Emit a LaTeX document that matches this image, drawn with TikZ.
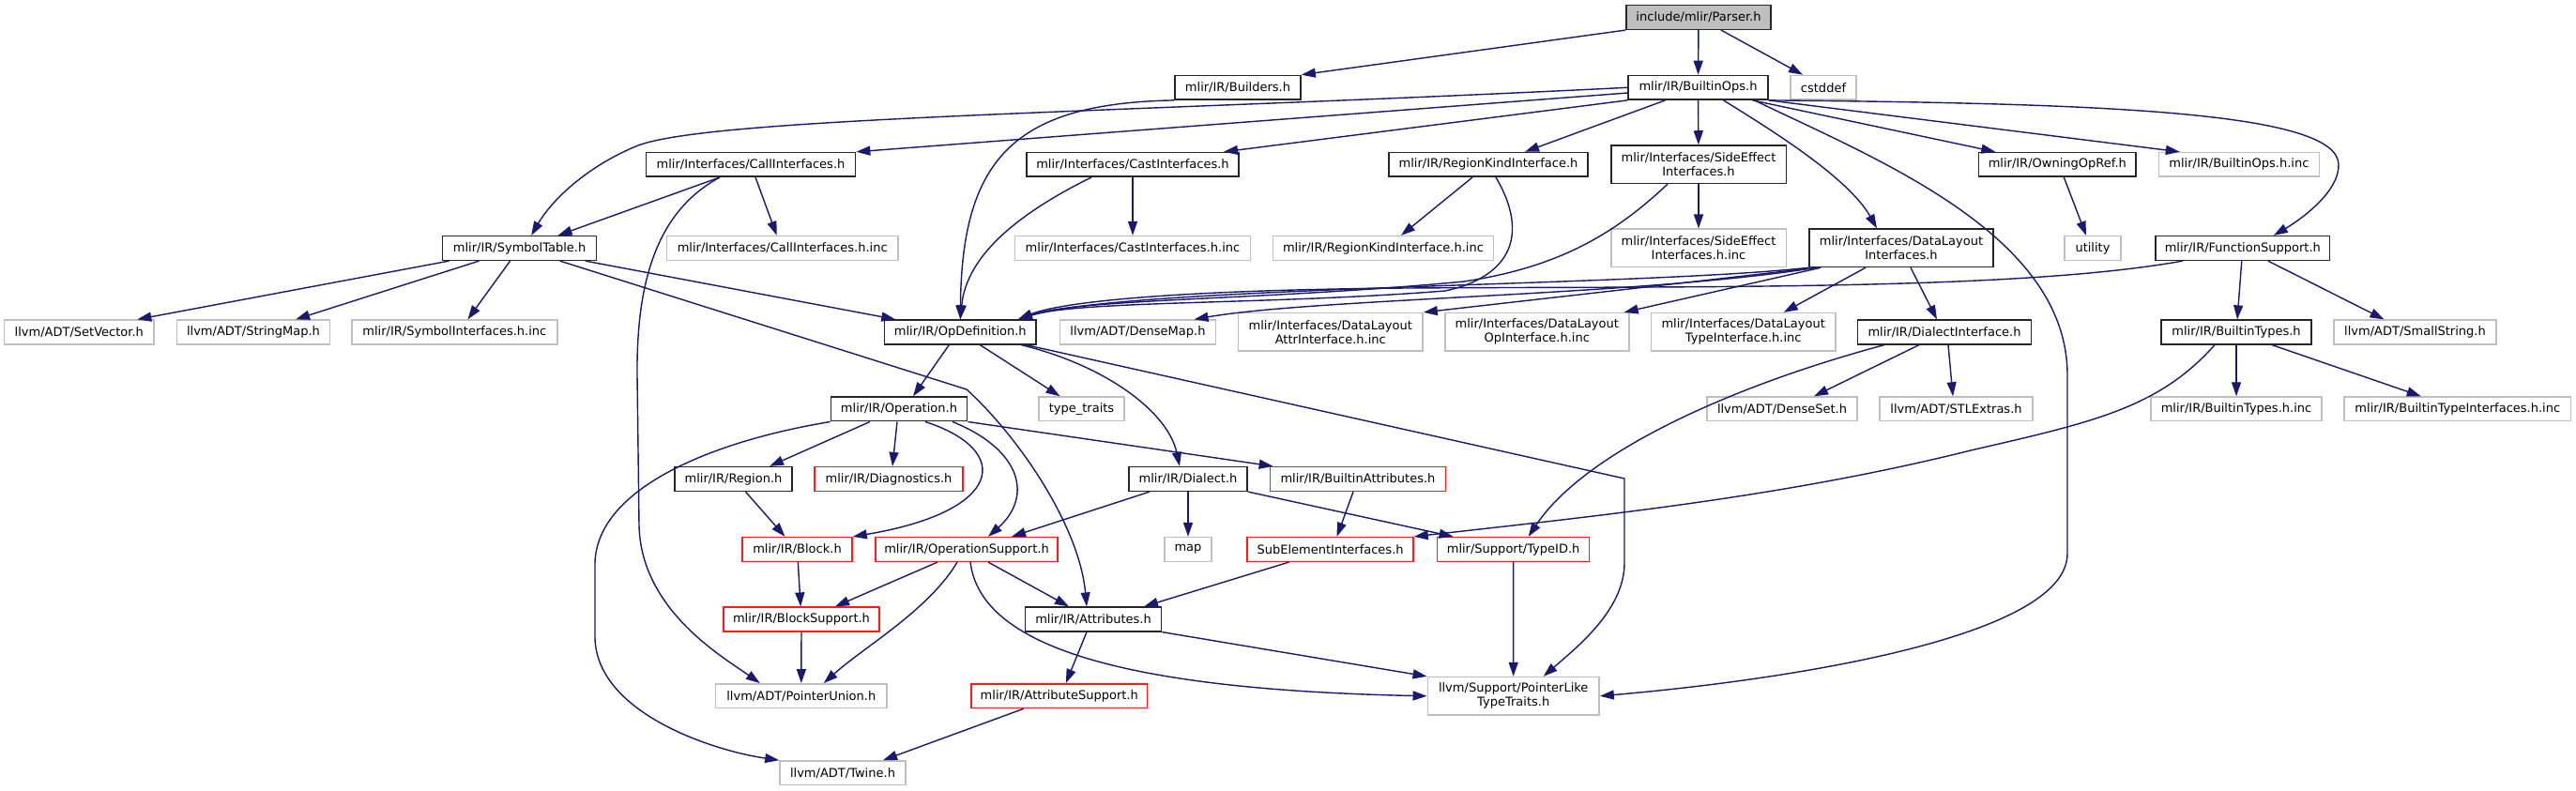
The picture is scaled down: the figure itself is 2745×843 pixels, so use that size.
\documentclass[tikz,border=0pt]{standalone}
\usepackage{fontspec}
\setmainfont{DejaVu Sans}
\usepackage{tikz}
\usetikzlibrary{arrows.meta}
\definecolor{midnight}{HTML}{191970}
\definecolor{grey75}{HTML}{BFBFBF}

\begin{document}
\begin{tikzpicture}[
  x=0.01cm, y=-0.01cm,
  every node/.style={draw, align=center, inner sep=0pt, font=\fontsize{3.7}{4.3}\selectfont, minimum height=0.256cm, line width=0.45pt},
  hdr/.style={draw=black!85},
  sys/.style={draw=grey75},
  redbox/.style={draw=red!90},
  root/.style={draw=black!85, fill=grey75},
  twoline/.style={minimum height=0.403cm},
  arrow/.style={-{Triangle[length=0.15cm,width=0.1cm]}, draw=midnight, line width=0.4pt}
]
\path[use as bounding box, fill=white] (0,0) rectangle (2745,843);

\node (parser) [root, minimum width=1.54cm] at (1810,18.5) {include/mlir/Parser.h};

\node (builders) [hdr, minimum width=1.34cm] at (1319,93.3) {mlir/IR/Builders.h};
\node (builtinops) [hdr, minimum width=1.49cm] at (1809.5,93.3) {mlir/IR/BuiltinOps.h};
\node (cstddef) [sys, minimum width=0.70cm] at (1943,93.3) {cstddef};

\node (callif) [hdr, minimum width=2.23cm] at (800,175.4) {mlir/Interfaces/CallInterfaces.h};
\node (castif) [hdr, minimum width=2.26cm] at (1207,175.4) {mlir/Interfaces/CastInterfaces.h};
\node (regionkind) [hdr, minimum width=2.12cm] at (1586,175.4) {mlir/IR/RegionKindInterface.h};
\node (sideeffect) [hdr, twoline, minimum width=1.865cm] at (1810,175.2) {mlir/Interfaces/SideEffect\\Interfaces.h};
\node (owningopref) [hdr, minimum width=1.674cm] at (2192.3,175.4) {mlir/IR/OwningOpRef.h};
\node (builtinopsinc) [sys, minimum width=1.71cm] at (2385.9,175.4) {mlir/IR/BuiltinOps.h.inc};

\node (symboltable) [hdr, minimum width=1.64cm] at (553.6,264.5) {mlir/IR/SymbolTable.h};
\node (callifinc) [sys, minimum width=2.465cm] at (833.7,264.5) {mlir/Interfaces/CallInterfaces.h.inc};
\node (castifinc) [sys, minimum width=2.51cm] at (1207,264.5) {mlir/Interfaces/CastInterfaces.h.inc};
\node (regionkindinc) [sys, minimum width=2.346cm] at (1474,264.5) {mlir/IR/RegionKindInterface.h.inc};
\node (sideeffectinc) [sys, twoline, minimum width=1.865cm] at (1810,264.4) {mlir/Interfaces/SideEffect\\Interfaces.h.inc};
\node (datalayout) [hdr, twoline, minimum width=1.96cm] at (2026,264.3) {mlir/Interfaces/DataLayout\\Interfaces.h};
\node (utility) [sys, minimum width=0.60cm] at (2230,264.5) {utility};
\node (functionsupport) [hdr, minimum width=1.855cm] at (2389.8,264.5) {mlir/IR/FunctionSupport.h};

\node (setvector) [sys, minimum width=1.594cm] at (84.3,354) {llvm/ADT/SetVector.h};
\node (stringmap) [sys, minimum width=1.625cm] at (270,354) {llvm/ADT/StringMap.h};
\node (symbolifinc) [sys, minimum width=2.192cm] at (484.4,354) {mlir/IR/SymbolInterfaces.h.inc};
\node (opdefinition) [hdr, minimum width=1.614cm] at (1023.3,354) {mlir/IR/OpDefinition.h};
\node (densemap) [sys, minimum width=1.66cm] at (1212.5,354) {llvm/ADT/DenseMap.h};
\node (dlattr) [sys, twoline, minimum width=1.964cm] at (1417.8,353.8) {mlir/Interfaces/DataLayout\\AttrInterface.h.inc};
\node (dlop) [sys, twoline, minimum width=1.96cm] at (1637.8,353.8) {mlir/Interfaces/DataLayout\\OpInterface.h.inc};
\node (dltype) [sys, twoline, minimum width=1.96cm] at (1857.7,353.8) {mlir/Interfaces/DataLayout\\TypeInterface.h.inc};
\node (dialectif) [hdr, minimum width=1.85cm] at (2072,354) {mlir/IR/DialectInterface.h};
\node (builtintypes) [hdr, minimum width=1.595cm] at (2383,354) {mlir/IR/BuiltinTypes.h};
\node (smallstring) [sys, minimum width=1.73cm] at (2573.5,354) {llvm/ADT/SmallString.h};

\node (operation) [hdr, minimum width=1.45cm] at (958,435.9) {mlir/IR/Operation.h};
\node (typetraits) [sys, minimum width=0.91cm] at (1152.5,435.9) {type\_traits};
\node (denseset) [sys, minimum width=1.595cm] at (1899,435.9) {llvm/ADT/DenseSet.h};
\node (stlextras) [sys, minimum width=1.63cm] at (2084.5,435.9) {llvm/ADT/STLExtras.h};
\node (builtintypesinc) [sys, minimum width=1.824cm] at (2383,435.9) {mlir/IR/BuiltinTypes.h.inc};
\node (builtintypeifinc) [sys, minimum width=2.416cm] at (2618.8,435.9) {mlir/IR/BuiltinTypeInterfaces.h.inc};

\node (region) [hdr, minimum width=1.25cm] at (781.5,510.5) {mlir/IR/Region.h};
\node (diagnostics) [redbox, minimum width=1.575cm] at (947,510.5) {mlir/IR/Diagnostics.h};
\node (dialect) [hdr, minimum width=1.26cm] at (1266,510.5) {mlir/IR/Dialect.h};
\node (builtinattrs) [redbox, minimum width=1.87cm] at (1447,510.5) {mlir/IR/BuiltinAttributes.h};

\node (block) [redbox, minimum width=1.17cm] at (849.5,585.5) {mlir/IR/Block.h};
\node (opsupport) [redbox, minimum width=1.94cm] at (1030,585.5) {mlir/IR/OperationSupport.h};
\node (map) [sys, minimum width=0.50cm] at (1266,585.5) {map};
\node (subelement) [redbox, minimum width=1.767cm] at (1417.6,585.5) {SubElementInterfaces.h};
\node (typeid) [redbox, minimum width=1.62cm] at (1612.6,585.5) {mlir/Support/TypeID.h};

\node (blocksupport) [redbox, minimum width=1.66cm] at (854,660) {mlir/IR/BlockSupport.h};
\node (attributes) [hdr, minimum width=1.45cm] at (1165,660) {mlir/IR/Attributes.h};

\node (pointerunion) [sys, minimum width=1.824cm] at (853.8,741.7) {llvm/ADT/PointerUnion.h};
\node (attrsupport) [redbox, minimum width=1.876cm] at (1128.8,741.7) {mlir/IR/AttributeSupport.h};
\node (pointerlike) [sys, twoline, minimum width=1.826cm] at (1612.7,741.8) {llvm/Support/PointerLike\\TypeTraits.h};

\node (twine) [sys, minimum width=1.34cm] at (898,823.8) {llvm/ADT/Twine.h};

\draw[arrow] (parser.south west) -- (builders.north east);
\draw[arrow] (parser) -- (builtinops);
\draw[arrow] ([xshift=0.24cm]parser.south) -- ([xshift=-0.22cm]cstddef.north);
\draw[arrow] (builders.south west) .. controls (1080,110) and (1025,170) .. (opdefinition.north);

\draw[arrow] (builtinops.west) .. controls (1200,120) and (760,125) .. (680,155) .. controls (630,175) and (590,210) .. ([xshift=0.125cm]symboltable.north);
\draw[arrow] (builtinops) -- (callif.north east);
\draw[arrow] (builtinops.south west) -- ([xshift=0.97cm]castif.north);
\draw[arrow] ([xshift=-0.35cm]builtinops.south) -- ([xshift=0.39cm]regionkind.north);
\draw[arrow] (builtinops) -- (sideeffect);
\draw[arrow] ([xshift=0.27cm]builtinops.south) .. controls (1890,140) and (1970,190) .. ([xshift=-0.26cm]datalayout.north);
\draw[arrow] ([xshift=0.6cm]builtinops.south) .. controls (2000,170) and (2203,250) .. (2203,400) -- (2203,590) .. controls (2203,680) and (1900,725) .. (pointerlike.east);
\draw[arrow] ([xshift=0.58cm]builtinops.south) -- ([xshift=-0.66cm]owningopref.north);
\draw[arrow] (builtinops.south east) -- ([xshift=-0.63cm]builtinopsinc.north);
\draw[arrow] (builtinops.south east) .. controls (2250,110) and (2490,120) .. (2492,175) .. controls (2493,205) and (2450,235) .. ([xshift=0.33cm]functionsupport.north);

\draw[arrow] ([xshift=-0.33cm]callif.south) -- ([xshift=0.41cm]symboltable.north);
\draw[arrow] ([xshift=0.05cm]callif.south) -- ([xshift=-0.06cm]callifinc.north);
\draw[arrow] ([xshift=-0.33cm]callif.south) .. controls (700,225) and (678,300) .. (679,400) -- (681,560) .. controls (683,650) and (770,700) .. ([xshift=-0.44cm]pointerunion.north);

\draw[arrow] (castif) -- (castifinc);
\draw[arrow] ([xshift=-0.44cm]castif.south) .. controls (1090,225) and (1030,270) .. (opdefinition.north);
\draw[arrow] ([xshift=-0.17cm]regionkind.south) -- ([xshift=0.19cm]regionkindinc.north);
\draw[arrow] ([xshift=0.08cm]regionkind.south) .. controls (1630,250) and (1610,295) .. (1540,310) .. controls (1350,325) and (1150,320) .. ([xshift=-0.2cm]opdefinition.north east);
\draw[arrow] (sideeffect) -- (sideeffectinc);
\draw[arrow] ([xshift=-0.33cm]sideeffect.south) .. controls (1720,250) and (1660,285) .. (1560,300) .. controls (1350,320) and (1150,318) .. ([xshift=-0.2cm]opdefinition.north east);

\draw[arrow] ([xshift=-0.75cm]symboltable.south) -- ([xshift=0.62cm]setvector.north);
\draw[arrow] ([xshift=-0.43cm]symboltable.south) -- ([xshift=0.45cm]stringmap.north);
\draw[arrow] ([xshift=-0.1cm]symboltable.south) -- ([xshift=0.14cm]symbolifinc.north);
\draw[arrow] ([xshift=0.7cm]symboltable.south) -- ([xshift=-0.69cm]opdefinition.north);
\draw[arrow] ([xshift=0.43cm]symboltable.south) -- (1030,415) .. controls (1085,465) and (1150,560) .. ([xshift=-0.07cm]attributes.north);

\draw[arrow] (datalayout.south west) .. controls (1750,305) and (1200,305) .. ([xshift=-0.2cm]opdefinition.north east);
\draw[arrow] ([xshift=0.08cm]datalayout.south west) .. controls (1750,315) and (1400,318) .. ([xshift=0.6cm]densemap.north);
\draw[arrow] ([xshift=0.09cm]datalayout.south west) -- (dlattr.north east);
\draw[arrow] ([xshift=0.13cm]datalayout.south west) -- ([xshift=-0.06cm]dlop.north east);
\draw[arrow] ([xshift=-0.38cm]datalayout.south) -- ([xshift=0.43cm]dltype.north);
\draw[arrow] ([xshift=0.1cm]datalayout.south) -- ([xshift=-0.08cm]dialectif.north);

\draw[arrow] ([xshift=-0.64cm]functionsupport.south) .. controls (2150,310) and (1800,305) .. (1500,307) .. controls (1250,309) and (1130,322) .. ([xshift=-0.2cm]opdefinition.north east);
\draw[arrow] (functionsupport) -- (builtintypes);
\draw[arrow] ([xshift=0.27cm]functionsupport.south) -- ([xshift=-0.33cm]smallstring.north);
\draw[arrow] ([xshift=0.07cm]owningopref.south) -- ([xshift=-0.07cm]utility.north);

\draw[arrow] ([xshift=-0.12cm]opdefinition.south) -- ([xshift=0.15cm]operation.north);
\draw[arrow] ([xshift=0.21cm]opdefinition.south) -- ([xshift=-0.23cm]typetraits.north);
\draw[arrow] ([xshift=0.65cm]opdefinition.south) .. controls (1180,390) and (1245,440) .. ([xshift=-0.09cm]dialect.north);
\draw[arrow] ([xshift=0.7cm]opdefinition.south) -- (1731,510) -- (1731,600) .. controls (1731,650) and (1680,690) .. ([xshift=0.32cm]pointerlike.north);

\draw[arrow] ([xshift=-0.31cm]operation.south) -- ([xshift=0.385cm]region.north);
\draw[arrow] ([xshift=-0.02cm]operation.south) -- ([xshift=0.04cm]diagnostics.north);
\draw[arrow] ([xshift=0.28cm]operation.south) .. controls (1080,480) and (1070,545) .. (block.north east);
\draw[arrow] ([xshift=0.57cm]operation.south) .. controls (1090,480) and (1100,530) .. ([xshift=0.23cm]opsupport.north);
\draw[arrow] (operation.south east) -- ([xshift=0.04cm]builtinattrs.north west);
\draw[arrow] (operation.south west) .. controls (760,470) and (636,520) .. (634,600) -- (634,680) .. controls (636,760) and (760,800) .. (twine.north west);

\draw[arrow] ([xshift=0.13cm]region.south) -- ([xshift=-0.13cm]block.north);
\draw[arrow] ([xshift=-0.41cm]dialect.south) -- ([xshift=0.48cm]opsupport.north);
\draw[arrow] (dialect) -- (map);
\draw[arrow] (dialect.south east) -- ([xshift=-0.64cm]typeid.north);
\draw[arrow] ([xshift=-0.05cm]builtinattrs.south) -- ([xshift=0.07cm]subelement.north);

\draw[arrow] (block) -- (blocksupport);
\draw[arrow] ([xshift=-0.31cm]opsupport.south) -- ([xshift=0.36cm]blocksupport.north);
\draw[arrow] ([xshift=-0.1cm]opsupport.south) .. controls (990,650) and (920,690) .. ([xshift=0.24cm]pointerunion.north);
\draw[arrow] ([xshift=0.23cm]opsupport.south) -- ([xshift=-0.26cm]attributes.north);
\draw[arrow] ([xshift=0.04cm]opsupport.south) .. controls (1045,690) and (1200,735) .. (pointerlike.west);
\draw[arrow] ([xshift=-0.44cm]subelement.south) -- ([xshift=0.54cm]attributes.north);
\draw[arrow] (typeid) -- (pointerlike);

\draw[arrow] (blocksupport) -- (pointerunion);
\draw[arrow] ([xshift=-0.07cm]attributes.south) -- ([xshift=0.07cm]attrsupport.north);
\draw[arrow] (attributes.south east) -- (pointerlike.north west);
\draw[arrow] ([xshift=-0.38cm]attrsupport.south) -- ([xshift=0.43cm]twine.north);

\draw[arrow] ([xshift=-0.27cm]dialectif.south) -- ([xshift=0.34cm]denseset.north);
\draw[arrow] ([xshift=0.04cm]dialectif.south) -- ([xshift=-0.035cm]stlextras.north);
\draw[arrow] ([xshift=-0.64cm]dialectif.south) .. controls (1850,410) and (1690,480) .. ([xshift=0.16cm]typeid.north);

\draw[arrow] (builtintypes) -- (builtintypesinc);
\draw[arrow] ([xshift=0.38cm]builtintypes.south) -- ([xshift=-0.39cm]builtintypeifinc.north);
\draw[arrow] ([xshift=-0.23cm]builtintypes.south) .. controls (2300,435) and (2230,450) .. (2100,480) .. controls (1900,530) and (1700,550) .. (subelement.north east);
\end{tikzpicture}
\end{document}
